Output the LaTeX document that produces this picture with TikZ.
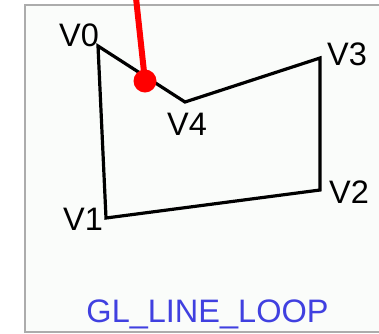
\documentclass[tikz,border=0pt]{standalone}
\usepackage{fontspec}
\setmainfont{Liberation Sans}
\begin{document}
\begin{tikzpicture}[x=1pt,y=-1pt,
  vlabel/.style={font=\fontsize{32.5}{36}\selectfont, inner sep=0pt},
  edge/.style={line width=3.2pt, black, line join=miter},
  frameline/.style={line width=2pt, draw=gray!65}]
\useasboundingbox (0,0) rectangle (379,333);
\fill[fill={rgb,255:red,250;green,252;blue,250}] (25,5) rectangle (379,333);
\draw[frameline] (25,333) -- (25,5) -- (379,5);
\draw[frameline] (25,332) -- (379,332);
\coordinate (v0) at (98,46);
\coordinate (v1) at (106,218);
\coordinate (v2) at (320,190);
\coordinate (v3) at (320,58);
\coordinate (v4) at (185,102);
\draw[edge] (v0) -- (v1) -- (v2) -- (v3) -- (v4) -- cycle;
\node[vlabel] (l0) at (79,35) {V0};
\node[vlabel] (l1) at (83,219) {V1};
\node[vlabel] (l2) at (349,192) {V2};
\node[vlabel] (l3) at (347,54) {V3};
\node[vlabel] (l4) at (187,124) {V4};
\node[font=\fontsize{32.5}{36}\selectfont, inner sep=0pt, text={rgb,255:red,64;green,64;blue,224}, anchor=base] (title) at (207.5,322) {GL\_LINE\_LOOP};
\coordinate (ptop) at (136,-2);
\node[circle, fill=red, minimum size=23pt, inner sep=0pt] (dot) at (145,81) {};
\draw[red, line width=6pt] (ptop) -- (dot.center);
\end{tikzpicture}
\end{document}
